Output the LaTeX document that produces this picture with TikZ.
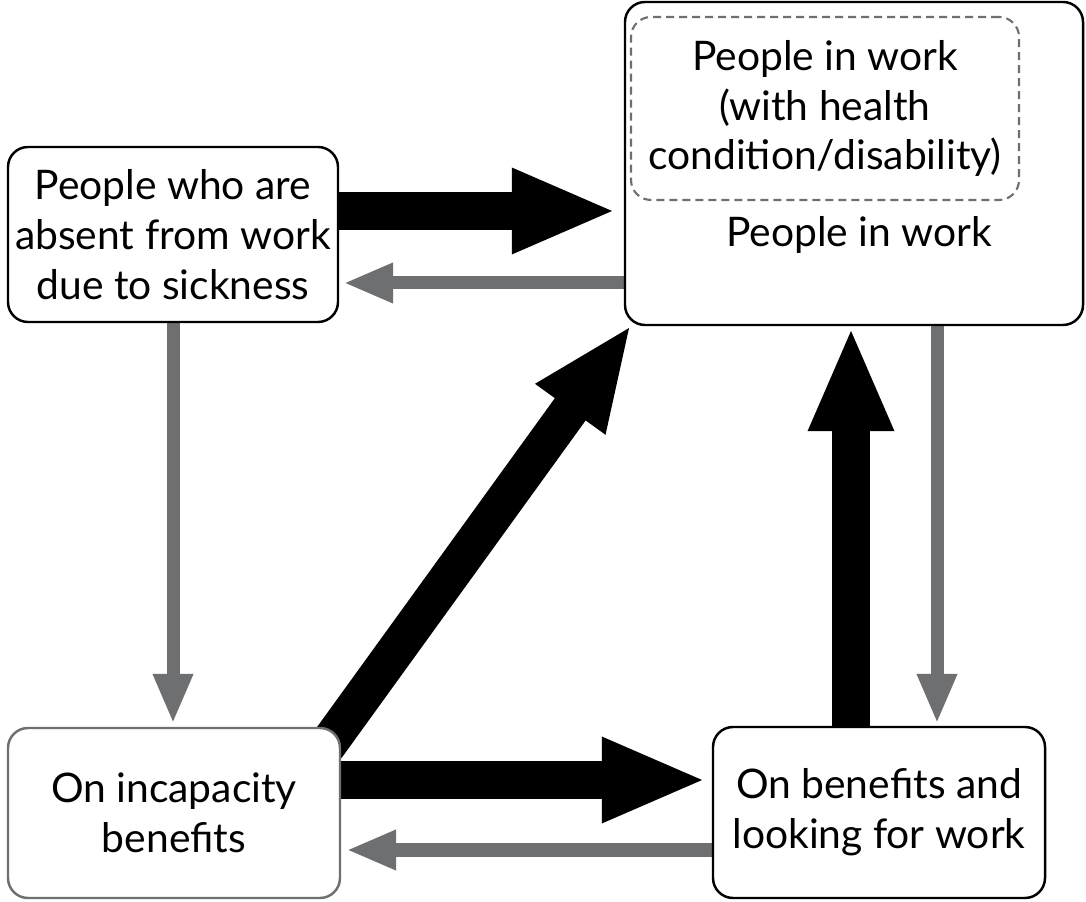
\documentclass[tikz,border=0pt]{standalone}
\usepackage{fontspec}
\setmainfont{Lato}
\usetikzlibrary{arrows.meta,backgrounds}
\definecolor{flowgray}{RGB}{110,111,113}

\begin{document}
\begin{tikzpicture}[
  font={\fontsize{11.6}{14.2}\selectfont},
  box/.style={draw,line width=0.7pt,rounded corners=0.2cm,fill=white,align=center,inner sep=0pt},
  bigflow/.style={line width=0.38cm,-{Triangle[width=0.78cm,length=1.05cm]}},
  smallflow/.style={flowgray,line width=0.13cm,-{Triangle[width=0.37cm,length=0.5cm]}}
]
\useasboundingbox (0,0) rectangle (10.86,9.01);

\node [box,minimum width=3.30cm,minimum height=1.75cm] (absent) at (1.73,6.665)
  {People who are\\absent from work\\due to sickness};
\node [box,minimum width=4.58cm,minimum height=3.23cm] (work) at (8.54,7.375) {};
\node [draw=flowgray,dashed,dash pattern=on 0.08cm off 0.05cm,line width=0.6pt,
  rounded corners=0.2cm,minimum width=3.88cm,minimum height=1.83cm,align=center,inner sep=0pt]
  (health) at (8.25,7.925) {People in work\\(with health\\condition/disability)};
\node (inwork) at (8.59,6.66) {People in work};
\node [box,draw=flowgray,minimum width=3.32cm,minimum height=1.70cm] (inc) at (1.74,0.88)
  {On incapacity\\benefits};
\node [box,minimum width=3.32cm,minimum height=1.71cm] (ben) at (8.79,0.885)
  {On benefits and\\looking for work};

\begin{scope}[on background layer]
\draw [bigflow,shorten >=0.07cm] ([yshift=0.235cm]absent.east) -- ([yshift=0.235cm]absent.east -| work.west);
\draw [smallflow,shorten >=0.04cm] ([yshift=-0.485cm]absent.east -| work.west) -- ([yshift=-0.485cm]absent.east);
\draw [smallflow,shorten >=0.03cm] (absent.south) -- (absent.south |- inc.north);
\draw [bigflow] ([shift={(-0.15,-0.2)}]inc.north east) -- ([shift={(0.08,0.02)}]work.south west);
\draw [bigflow,shorten >=0.05cm] ([yshift=0.33cm]inc.east) -- ([yshift=0.33cm]inc.east -| ben.west);
\draw [smallflow,shorten >=0.05cm] ([yshift=-0.37cm]inc.east -| ben.west) -- ([yshift=-0.37cm]inc.east);
\draw [bigflow] ([xshift=-0.28cm]ben.north) -- ([xshift=-0.28cm]ben.north |- work.south);
\draw [smallflow,shorten >=0.02cm] ([xshift=0.58cm]ben.north |- work.south) -- ([xshift=0.58cm]ben.north);
\end{scope}
\end{tikzpicture}
\end{document}
